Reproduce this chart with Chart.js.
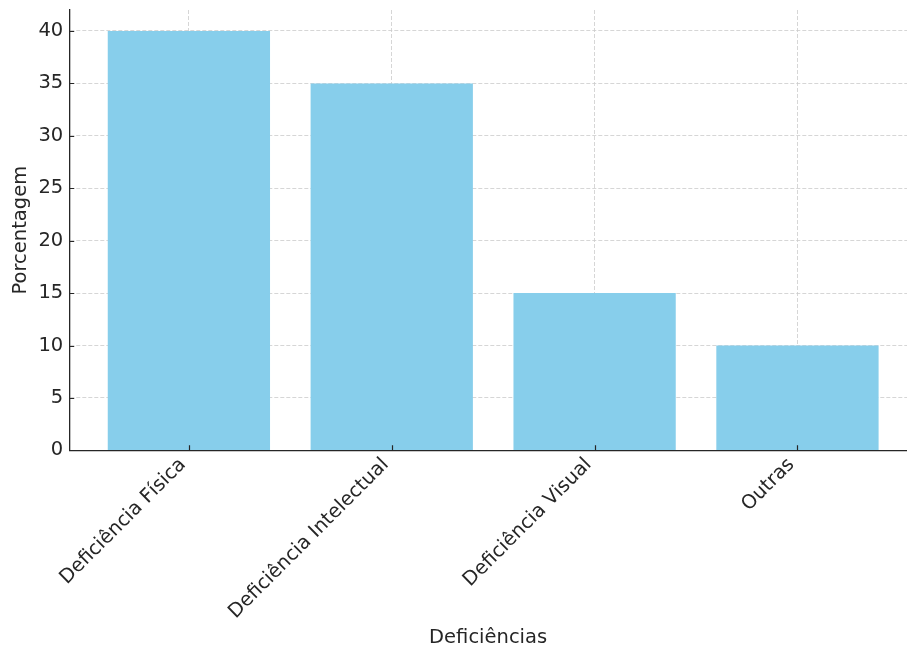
<!DOCTYPE html>
<html>
<head>
<meta charset="utf-8">
<script src="https://cdn.jsdelivr.net/npm/chart.js@4"></script>
<style>
  html, body { margin: 0; padding: 0; background: #fff; overflow: hidden; }
  #wrap { width: 907px; height: 650px; }
</style>
</head>
<body>
<div id="wrap"><canvas id="chart"></canvas></div>
<script>
// data
const categories = ['Deficiência Física', 'Deficiência Intelectual', 'Deficiência Visual', 'Outras'];
const percentages = [40, 35, 15, 10];
const yTicks = [0, 5, 10, 15, 20, 25, 30, 35, 40];

const textColor = '#262626';
const gridColor = '#cccccc';
const font = { family: 'DejaVu Sans', size: 19.5 };

// small inward tick marks like the original axes
const innerTicks = {
    id: 'innerTicks',
    afterDraw(chart) {
        const c = chart.ctx;
        const xs = chart.scales.x, ys = chart.scales.y;
        const area = chart.chartArea;
        c.save();
        c.strokeStyle = textColor;
        c.lineWidth = 1.2;
        c.beginPath();
        categories.forEach((_, i) => {
            const px = Math.round(xs.getPixelForValue(i)) + 0.5;
            c.moveTo(px, area.bottom);
            c.lineTo(px, area.bottom - 5);
        });
        yTicks.forEach(v => {
            const py = Math.round(ys.getPixelForValue(v)) + 0.5;
            c.moveTo(area.left, py);
            c.lineTo(area.left + 5, py);
        });
        c.stroke();
        c.restore();
    }
};

const ctx = document.getElementById('chart').getContext('2d');
new Chart(ctx, {
    type: 'bar',
    data: {
        datasets: [{
            data: percentages.map((v, i) => ({ x: i, y: v })),
            backgroundColor: '#87ceeb',
            borderWidth: 0,
            barPercentage: 0.8,
            categoryPercentage: 1.0
        }]
    },
    options: {
        responsive: true,
        maintainAspectRatio: false,
        animation: false,
        layout: { padding: { top: 10, right: 0, left: 9, bottom: 0 } },
        plugins: {
            legend: { display: false },
            tooltip: { enabled: false }
        },
        scales: {
            x: {
                type: 'linear',
                offset: false,
                min: -0.59,
                max: 3.54,
                afterBuildTicks: (scale) => {
                    scale.ticks = categories.map((_, i) => ({ value: i }));
                },
                ticks: {
                    color: textColor,
                    font: font,
                    minRotation: 45,
                    maxRotation: 45,
                    padding: 3,
                    labelOffset: -6,
                    callback: (v) => categories[v]
                },
                grid: {
                    offset: false,
                    color: gridColor,
                    lineWidth: 0.8,
                    drawTicks: false
                },
                border: { display: true, color: textColor, width: 1.3, dash: [4, 2] },
                title: {
                    display: true,
                    text: 'Deficiências',
                    color: textColor,
                    font: font,
                    padding: { top: 0, bottom: 0 }
                }
            },
            y: {
                min: 0,
                max: 42,
                afterBuildTicks: (scale) => {
                    scale.ticks = yTicks.map(v => ({ value: v }));
                },
                afterFit: (scale) => {
                    scale.paddingTop = 0;
                },
                ticks: {
                    color: textColor,
                    font: font,
                    padding: 6
                },
                grid: {
                    color: gridColor,
                    lineWidth: 0.8,
                    drawTicks: false
                },
                border: { display: true, color: textColor, width: 1.3, dash: [4, 2] },
                title: {
                    display: true,
                    text: 'Porcentagem',
                    color: textColor,
                    font: font,
                    padding: { top: 0, bottom: 0 }
                }
            }
        }
    },
    plugins: [innerTicks]
});
</script>
</body>
</html>
